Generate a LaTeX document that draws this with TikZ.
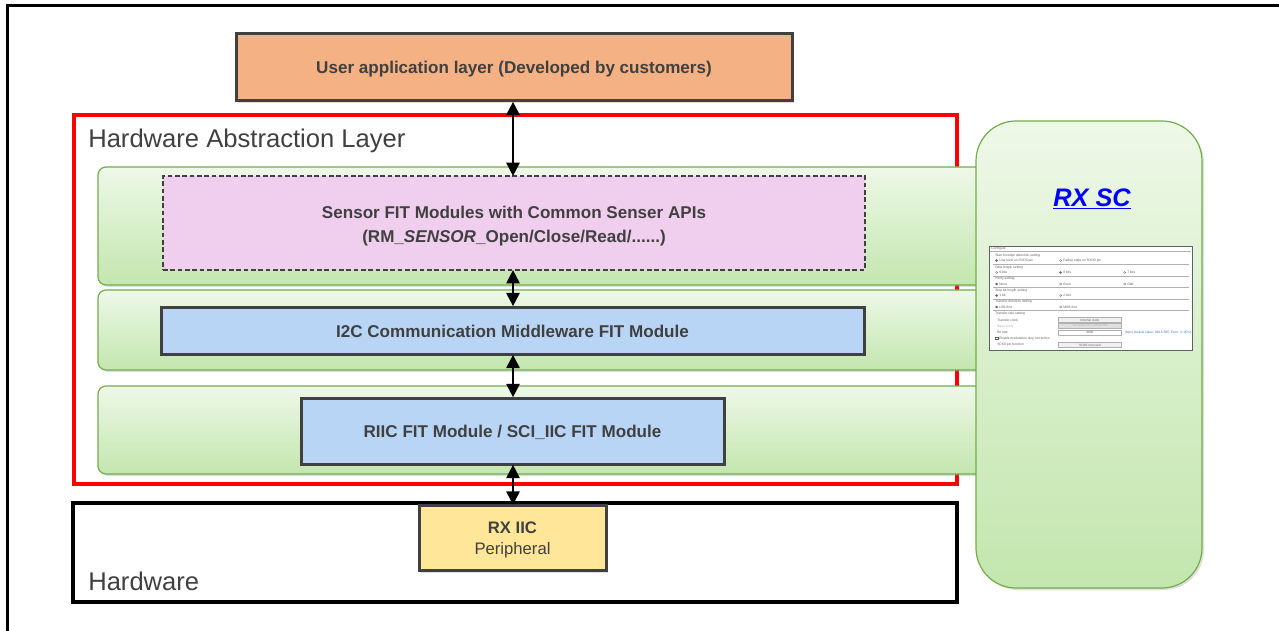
\documentclass[tikz,border=0pt]{standalone}
\usepackage{fontspec}
\setmainfont{Liberation Sans}
\usetikzlibrary{arrows.meta,shadows}
\definecolor{txtgray}{HTML}{404040}
\definecolor{uafill}{HTML}{F4B183}
\definecolor{sensfill}{HTML}{F0CEEE}
\definecolor{bluefill}{HTML}{B8D5F6}
\definecolor{yelfill}{HTML}{FFE699}
\definecolor{gtop}{HTML}{EEF8E8}
\definecolor{gbot}{HTML}{C3E6AE}
\definecolor{gborder}{HTML}{72AE48}
\definecolor{halred}{HTML}{FF0000}
\definecolor{linkblue}{HTML}{0000FF}
\definecolor{ssgray}{HTML}{606060}
\definecolor{sslight}{HTML}{B0B0B0}
\definecolor{ssblue}{HTML}{3A78D0}
\begin{document}
\begin{tikzpicture}[x=0.75pt,y=-0.75pt,
  shad/.style={drop shadow={opacity=0.25,shadow xshift=1.5pt,shadow yshift=-1.5pt}},
  modbox/.style={draw=txtgray,line width=2.25pt,inner sep=0pt,shad},
  modtxt/.style={text=txtgray,font=\bfseries\fontsize{12.8}{18}\selectfont,align=center,inner sep=0pt},
  band/.style={draw=gborder,line width=0.9pt,rounded corners=6pt,top color=gtop,bottom color=gbot,shad},
  layerlabel/.style={text=txtgray,font=\fontsize{19.2}{22}\selectfont,anchor=west,inner sep=0pt},
  biarrow/.style={{Triangle[length=10pt,width=10pt]}-{Triangle[length=10pt,width=10pt]},line width=1.5pt,black,shorten <=-0.5pt,shorten >=-0.5pt},
  sstxt/.style={font=\fontsize{2.5}{3}\selectfont,text=ssgray,inner sep=0pt,anchor=west},
  radio/.style={draw=ssgray,line width=0.15pt,fill=white},
  radioon/.style={draw=ssgray,line width=0.15pt,fill=ssgray},
  ssdrop/.style={draw=sslight,fill=gray!12,line width=0.2pt,minimum width=47pt,minimum height=3.6pt,inner sep=0pt,anchor=west,font=\fontsize{2.4}{3}\selectfont,text=ssgray}
]
\useasboundingbox (0,0) rectangle (1279,631);
% outer frame (cut off at right and bottom)
\draw[line width=2.25pt,black] (7,631) -- (7,6) -- (1279,6);

% HAL red frame
\draw[halred,line width=2.4pt] (74,115) rectangle (957,484);
\node[layerlabel] (hal) at (88,141) {Hardware Abstraction Layer};

% Hardware frame
\draw[black,line width=2.4pt] (73,503) rectangle (957,602);
\node[layerlabel] (hw) at (88,581) {Hardware};

% green bands
\draw[band] (98,167) rectangle (990,285);
\draw[band] (98,290) rectangle (990,370);
\draw[band] (98,386) rectangle (990,474);

% module boxes
\node[modbox,fill=uafill,minimum width=417pt,minimum height=50.25pt] (ua) at (514,67.5) {};
\node[modtxt] (uatxt) at (514,69) {User application layer (Developed by customers)};
\node[draw=txtgray,line width=1.1pt,dash pattern=on 3.5pt off 2pt,fill=sensfill,inner sep=0pt,
  minimum width=526.5pt,minimum height=70.5pt] (sensor) at (514,223) {};
\node[modtxt] (sensortxt) at (514,226.5)
  {Sensor FIT Modules with Common Senser APIs\\(RM\_\textit{SENSOR}\_Open/Close/Read/......)};
\node[modbox,fill=bluefill,minimum width=527.25pt,minimum height=35.25pt] (i2c) at (512.5,330.5) {};
\node[modtxt] (i2ctxt) at (512.5,331.5) {I2C Communication Middleware FIT Module};
\node[modbox,fill=bluefill,minimum width=317.25pt,minimum height=49.5pt] (riic) at (512.5,431) {};
\node[modtxt] (riictxt) at (512.5,432.5) {RIIC FIT Module / SCI\_IIC FIT Module};
\node[modbox,fill=yelfill,minimum width=140.25pt,minimum height=48.75pt] (rxiic) at (512.5,538) {};
\node[text=txtgray,align=center,inner sep=0pt,font=\fontsize{12.5}{16}\selectfont] (rxiictxt) at (512.5,540)
  {\textbf{RX IIC}\\Peripheral};

% arrows
\coordinate (ax) at (513,0);
\draw[biarrow] (ua.south -| ax) -- (sensor.north -| ax);
\draw[biarrow] (sensor.south -| ax) -- (i2c.north -| ax);
\draw[biarrow] (i2c.south -| ax) -- (riic.north -| ax);
\draw[biarrow] (riic.south -| ax) -- (rxiic.north -| ax);

% RX SC panel
\node[draw=gborder,line width=0.9pt,rounded corners=30pt,top color=gtop,bottom color=gbot,
  minimum width=169.5pt,minimum height=350.25pt,inner sep=0pt,shad] (rxsc) at (1089,354.5) {};
\node[text=linkblue,font=\bfseries\itshape\fontsize{19}{22}\selectfont,inner sep=0pt] (rxsclabel) at (1092,199) {\underline{RX SC}};

% screenshot of configurator
\node[draw=ssgray,line width=0.7pt,fill=white,minimum width=152.25pt,minimum height=78pt,inner sep=0pt] (shot) at (1090.5,298) {};
\draw[sslight,line width=0.3pt] (990,251.5) -- (1191,251.5);
\node[sstxt] (s0) at (991,248.5) {Configure};
% groups
\node[sstxt] (s1) at (995,255.5) {Start bit edge detection setting};
\draw[radioon] (996.5,260.5) circle (1.1);
\node[sstxt] (s1a) at (999,260.5) {Low level on RXD0 pin};
\draw[radio] (1060.5,260.5) circle (1.1);
\node[sstxt] (s1b) at (1063,260.5) {Falling edge on RXD0 pin};
\draw[sslight,line width=0.2pt] (993,264.5) -- (1189,264.5);
\node[sstxt] (s2) at (995,267.5) {Data length setting};
\draw[radio] (996.5,272.5) circle (1.1);
\node[sstxt] (s2a) at (999,272.5) {9 bits};
\draw[radioon] (1060.5,272.5) circle (1.1);
\node[sstxt] (s2b) at (1063,272.5) {8 bits};
\draw[radio] (1124.5,272.5) circle (1.1);
\node[sstxt] (s2c) at (1127,272.5) {7 bits};
\draw[sslight,line width=0.2pt] (993,276) -- (1189,276);
\node[sstxt] (s3) at (995,279) {Parity setting};
\draw[radioon] (996.5,284) circle (1.1);
\node[sstxt] (s3a) at (999,284) {None};
\draw[radio] (1060.5,284) circle (1.1);
\node[sstxt] (s3b) at (1063,284) {Even};
\draw[radio] (1124.5,284) circle (1.1);
\node[sstxt] (s3c) at (1127,284) {Odd};
\draw[sslight,line width=0.2pt] (993,287.5) -- (1189,287.5);
\node[sstxt] (s4) at (995,290.5) {Stop bit length setting};
\draw[radioon] (996.5,295.5) circle (1.1);
\node[sstxt] (s4a) at (999,295.5) {1 bit};
\draw[radio] (1060.5,295.5) circle (1.1);
\node[sstxt] (s4b) at (1063,295.5) {2 bits};
\draw[sslight,line width=0.2pt] (993,299) -- (1189,299);
\node[sstxt] (s5) at (995,302) {Transfer direction setting};
\draw[radioon] (996.5,307) circle (1.1);
\node[sstxt] (s5a) at (999,307) {LSB-first};
\draw[radio] (1060.5,307) circle (1.1);
\node[sstxt] (s5b) at (1063,307) {MSB-first};
\draw[sslight,line width=0.2pt] (993,310.5) -- (1189,310.5);
\node[sstxt] (s6) at (995,313.5) {Transfer rate setting};
\node[sstxt] (s6a) at (997,320) {Transfer clock};
\node[ssdrop] (d1) at (1058,320) {\ Internal clock};
\node[sstxt,text=sslight] (s6b) at (997,326) {Base clock};
\node[ssdrop,fill=gray!25,text=sslight] (d2) at (1058,326) {\ 16 cycles for 1-bit period};
\node[sstxt] (s6c) at (997,332.5) {Bit rate};
\node[ssdrop,fill=white] (d3) at (1058,332.5) {\ 9600};
\node[sstxt,text=ssblue] (s6d) at (1125,332.5) {(bps) (Actual value: 9615.385, Error: 0.16\%)};
\draw[ssgray,line width=0.2pt] (995.5,337.3) rectangle (997.8,339.6);
\node[sstxt] (s6e) at (999,338.5) {Enable modulation duty correction};
\node[sstxt] (s7) at (997,345) {SCK0 pin function};
\node[ssdrop] (d4) at (1058,345) {\ SCK0 not used};
\end{tikzpicture}
\end{document}
